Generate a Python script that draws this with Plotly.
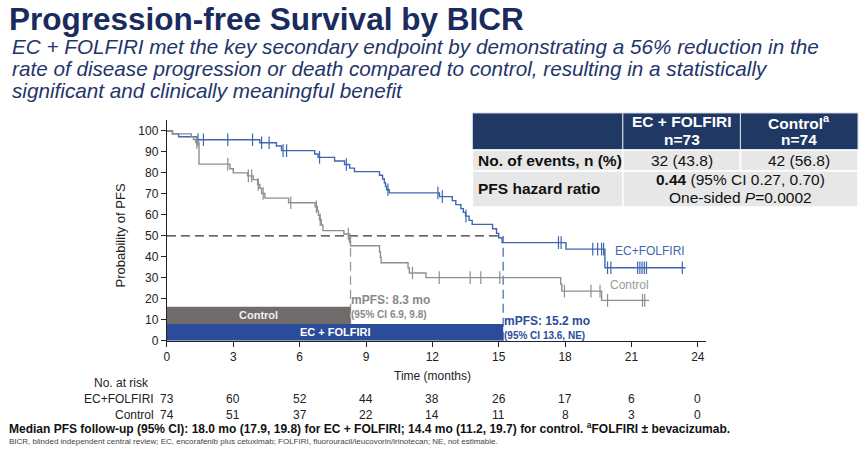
import numpy as np
import plotly.graph_objects as go

W, H = 865, 453
FONT = "Liberation Sans, Arial, sans-serif"

# ---------------- data ----------------
ec_times = [0, 0.25, 0.53, 1.35, 4.2, 4.95, 5.18, 6.68, 6.83, 7.58, 8.03, 8.26, 8.48,
            9.61, 9.75, 9.83, 9.88, 9.93, 10.05, 12.32, 12.9, 13.06, 13.29, 13.4, 13.5,
            13.66, 13.8, 14.72, 14.9, 15.0, 15.15, 18.04, 19.8]
ec_surv = [100, 98.6, 97.2, 95.8, 94.4, 92.8, 90.6, 89.0, 87.4, 85.7, 84.0, 82.3, 80.6,
           78.9, 77.1, 75.3, 73.6, 72.0, 70.5, 68.7, 66.8, 64.9, 63.0, 61.2, 59.4,
           57.4, 55.5, 53.4, 51.2, 49.1, 46.8, 43.7, 34.8]
ec_last = 23.45
ec_censor = [1.4, 1.65, 2.75, 3.87, 4.28, 4.62, 5.25, 5.41, 6.9, 8.11, 9.99, 12.25, 12.45,
             13.52, 17.7, 17.82, 19.25, 19.47, 19.65, 19.74, 19.92, 20.07, 21.28, 21.38,
             21.48, 21.58, 21.68, 23.3]

ctl_times = [0, 0.25, 1.1, 1.2, 1.3, 1.45, 2.85, 3.0, 3.65, 3.9, 4.1, 4.2, 4.28, 4.43, 5.5,
             6.7, 6.8, 6.85, 6.9, 6.98, 7.05, 8.0, 8.26, 8.3, 9.61, 9.65, 9.68, 10.9, 10.96,
             11.71, 17.8, 17.85, 19.65]
ctl_surv = [100, 98.6, 97.3, 95.9, 94.5, 84.2, 82.0, 80.0, 78.6, 76.8, 74.5, 72.7, 70.2, 68.0,
            65.8, 63.9, 61.9, 59.8, 57.7, 55.2, 52.5, 50.9, 47.0, 45.3, 42.5, 39.8, 37.2, 34.7,
            32.3, 30.1, 27.0, 23.7, 19.3]
ctl_last = 21.8
ctl_censor = [1.35, 2.75, 3.68, 3.83, 4.13, 4.35, 5.6, 6.76, 6.93, 8.2, 11.1, 12.31, 13.71,
              14.19, 15.05, 17.97, 19.17, 19.58, 19.92, 21.5, 21.6]

median_ec = 15.2
median_ctl = 8.3

risk_months = [0, 3, 6, 9, 12, 15, 18, 21, 24]
risk_ec = [73, 60, 52, 44, 38, 26, 17, 6, 0]
risk_ctl = [74, 51, 37, 22, 14, 11, 8, 3, 0]

x_ticks = [0, 3, 6, 9, 12, 15, 18, 21, 24]
y_ticks = [0, 10, 20, 30, 40, 50, 60, 70, 80, 90, 100]

table_header_top = ["EC + FOLFIRI", "Control<sup>a</sup>"]
table_header_n = ["n=73", "n=74"]
table_rows = ["No. of events, n (%)", "PFS hazard ratio"]
table_events = ["32 (43.8)", "42 (56.8)"]
table_hr = ["<b>0.44</b> (95% CI 0.27, 0.70)", "One-sided <i>P</i>=0.0002"]

# ---------------- helpers ----------------
VS = 0.985  # observed vertical factor of the rendered page


def px(x):
    return x / W


def py(y):
    return 1 - (y / VS) / H


def km_at(times, surv, t):
    i = np.searchsorted(np.array(times), t, side="right") - 1
    return surv[i]


BLUE_LINE = "#3F66B3"
GRAY_LINE = "#8E8E8E"
BLUE_BAR = "#2B4C9B"
GRAY_BAR = "#716B6B"
NAVY = "#1A2B5E"

fig = go.Figure()

for times, surv, last, cens, col in [
    (ec_times, ec_surv, ec_last, ec_censor, BLUE_LINE),
    (ctl_times, ctl_surv, ctl_last, ctl_censor, GRAY_LINE),
]:
    fig.add_trace(go.Scatter(
        x=list(times) + [last], y=list(surv) + [surv[-1]],
        mode="lines", line=dict(shape="hv", color=col, width=1.4),
        showlegend=False, hoverinfo="skip"))
    fig.add_trace(go.Scatter(
        x=cens, y=[km_at(times, surv, t) for t in cens],
        mode="markers",
        marker=dict(symbol="line-ns", size=9, line=dict(color=col, width=1.2)),
        showlegend=False, hoverinfo="skip"))

shapes = []
shapes.append(dict(type="line", xref="x", yref="y", x0=0, x1=median_ec, y0=50, y1=50,
                   line=dict(color="#333333", width=1.3, dash="9px,5px"), layer="below"))
shapes.append(dict(type="line", xref="x", yref="y", x0=median_ctl, x1=median_ctl, y0=0, y1=50,
                   line=dict(color="#9A9A9A", width=1.3, dash="9px,5px"), layer="below"))
shapes.append(dict(type="line", xref="x", yref="y", x0=median_ec, x1=median_ec, y0=0, y1=50,
                   line=dict(color="#4A72C0", width=1.3, dash="9px,5px"), layer="below"))
shapes.append(dict(type="rect", xref="x", yref="y", x0=0, x1=median_ec, y0=0, y1=8.0,
                   fillcolor=BLUE_BAR, line=dict(width=0), layer="below"))
shapes.append(dict(type="rect", xref="x", yref="y", x0=0, x1=median_ctl, y0=8.0, y1=16.2,
                   fillcolor=GRAY_BAR, line=dict(width=0), layer="below"))

# table cells
TX = [471, 622, 740, 858]
TY = [113, 150, 171, 207]
for i in range(3):
    shapes.append(dict(type="rect", xref="paper", yref="paper",
                       x0=px(TX[i]), x1=px(TX[i + 1]), y0=py(TY[1]), y1=py(TY[0]),
                       fillcolor="#1F3864", line=dict(color="#D9DEE8", width=1)))
for i in range(3):
    shapes.append(dict(type="rect", xref="paper", yref="paper",
                       x0=px(TX[i]), x1=px(TX[i + 1]), y0=py(TY[2]), y1=py(TY[1]),
                       fillcolor="#E7E7E7", line=dict(color="white", width=1.5)))
shapes.append(dict(type="rect", xref="paper", yref="paper",
                   x0=px(TX[0]), x1=px(TX[1]), y0=py(TY[3]), y1=py(TY[2]),
                   fillcolor="#E7E7E7", line=dict(color="white", width=1.5)))
shapes.append(dict(type="rect", xref="paper", yref="paper",
                   x0=px(TX[1]), x1=px(TX[3]), y0=py(TY[3]), y1=py(TY[2]),
                   fillcolor="#E7E7E7", line=dict(color="white", width=1.5)))

ann = []


def text(x, y, s, size, color="#222222", xanchor="left", xref="paper", yref="paper",
         xshift=0, yanchor="middle"):
    ann.append(dict(x=x, y=y, xref=xref, yref=yref, text=s, showarrow=False,
                    xanchor=xanchor, yanchor=yanchor, xshift=xshift,
                    font=dict(family=FONT, size=size, color=color), align="left"))


text(px(4), py(19), "<b>Progression-free Survival by BICR</b>", 31.5, NAVY)
sub = ["EC + FOLFIRI met the key secondary endpoint by demonstrating a 56% reduction in the",
       "rate of disease progression or death compared to control, resulting in a statistically",
       "significant and clinically meaningful benefit"]
for k, line in enumerate(sub):
    text(px(7), py(47 + 22 * k), "<i>" + line + "</i>", 20.7, "#1F356B")

for i in range(2):
    cx = px((TX[i + 1] + TX[i + 2]) / 2)
    text(cx, py(122), "<b>" + table_header_top[i] + "</b>", 15.5, "white", xanchor="center")
    text(cx, py(140), "<b>" + table_header_n[i] + "</b>", 15.5, "white", xanchor="center")
text(px(475), py(161), "<b>" + table_rows[0] + "</b>", 15.5, "#111111")
text(px(475), py(189), "<b>" + table_rows[1] + "</b>", 15.5, "#111111")
for i, s in enumerate(table_events):
    text(px((TX[i + 1] + TX[i + 2]) / 2), py(161), s, 15.5, "#111111", xanchor="center")
text(px((TX[1] + TX[3]) / 2), py(180), table_hr[0], 15.5, "#111111", xanchor="center")
text(px((TX[1] + TX[3]) / 2), py(198), table_hr[1], 15.5, "#111111", xanchor="center")

text(median_ctl / 2, 12.1, "<b>Control</b>", 11, "#F2F2F2", xanchor="center", xref="x", yref="y")
text(median_ec / 2, 4.0, "<b>EC + FOLFIRI</b>", 11, "white", xanchor="center", xref="x", yref="y")

text(median_ctl, py(300), "<b>mPFS: 8.3 mo</b>", 12, "#8A8A8A", xref="x", xshift=-2)
text(median_ctl, py(315), "<b>(95% CI 6.9, 9.8)</b>", 10, "#8A8A8A", xref="x", xshift=-2)
text(median_ec, py(321), "<b>mPFS: 15.2 mo</b>", 12, BLUE_BAR, xref="x", xshift=-1)
text(median_ec, py(336), "<b>(95% CI 13.6, NE)</b>", 10, BLUE_BAR, xref="x", xshift=-1)

text(px(612), py(251), "EC+FOLFIRI", 12, BLUE_LINE)
text(px(607), py(285), "Control", 12, "#9A9A9A")

text(431 / W, py(376), "Time (months)", 12, "#222222", xanchor="center")
ann.append(dict(x=px(118), y=py(236), xref="paper", yref="paper", text="Probability of PFS",
                showarrow=False, textangle=-90, xanchor="center", yanchor="middle",
                font=dict(family=FONT, size=13, color="#222222")))

text(px(119), py(383), "No. at risk", 12, "#222222", xanchor="center")
text(px(154), py(399), "EC+FOLFIRI", 12, "#222222", xanchor="right")
text(px(154), py(415), "Control", 12, "#222222", xanchor="right")
for m, a, b in zip(risk_months, risk_ec, risk_ctl):
    text(m, py(399), str(a), 12, "#222222", xanchor="center", xref="x")
    text(m, py(415), str(b), 12, "#222222", xanchor="center", xref="x")

text(px(4), py(428), "<b>Median PFS follow-up (95% CI): 18.0 mo (17.9, 19.8) for EC + FOLFIRI; "
     "14.4 mo (11.2, 19.7) for control. <sup>a</sup>FOLFIRI ± bevacizumab.</b>", 12, "#111111")
ann.append(dict(x=px(4), y=0, xref="paper", yref="paper",
                text="BICR, blinded independent central review; EC, encorafenib plus cetuximab; "
                     "FOLFIRI, fluorouracil/leucovorin/irinotecan; NE, not estimable.",
                showarrow=False, xanchor="left", yanchor="bottom", yshift=-2,
                font=dict(family=FONT, size=8, color="#444444")))

axis_common = dict(showline=True, linecolor="#222222", linewidth=1.3, ticks="outside",
                   ticklen=5, tickcolor="#222222", tickwidth=1.2, showgrid=False,
                   zeroline=False, tickfont=dict(family=FONT, size=12, color="#222222"))

Y0, Y100, YTOP = 341, 131, 120
y_top_val = (Y0 - YTOP) / (Y0 - Y100) * 100

fig.update_layout(
    width=W, height=H, autosize=False,
    margin=dict(l=0, r=0, t=0, b=0),
    paper_bgcolor="white", plot_bgcolor="white",
    showlegend=False,
    xaxis=dict(domain=[px(164.5), px(705)], range=[0, 24.35], tickvals=x_ticks, **axis_common),
    yaxis=dict(domain=[py(Y0), py(YTOP)], range=[0, y_top_val], tickvals=y_ticks, **axis_common),
    shapes=shapes, annotations=ann,
)

fig.write_html("out.html")
